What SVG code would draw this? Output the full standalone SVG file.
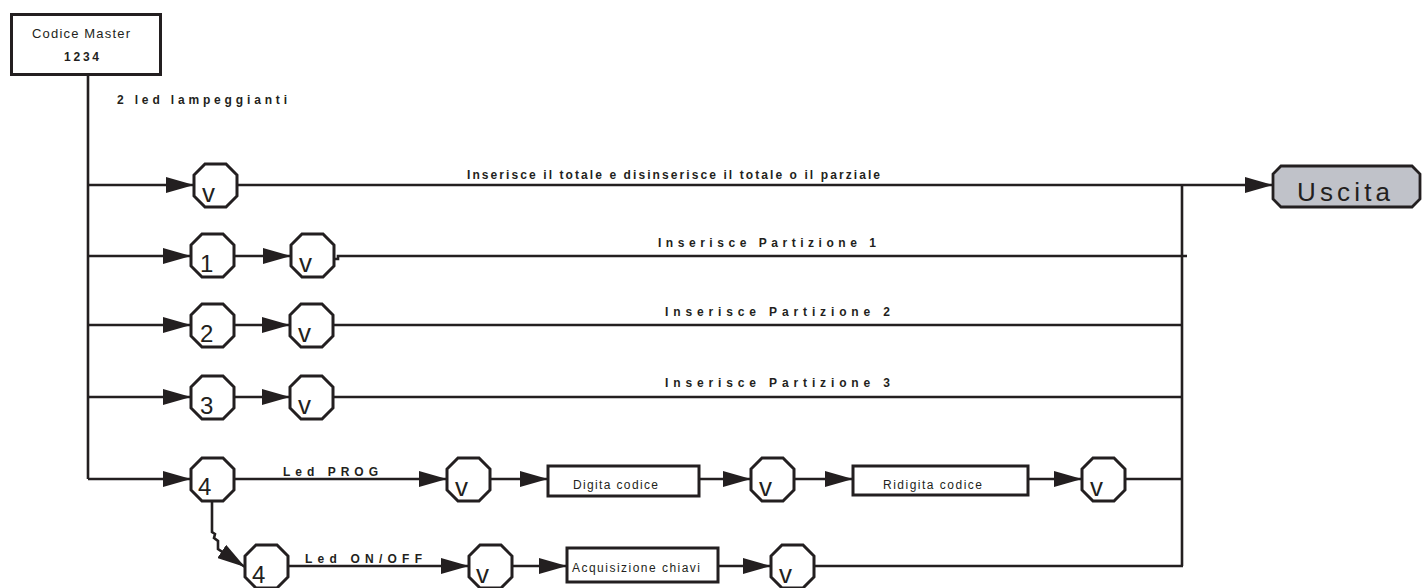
<svg xmlns="http://www.w3.org/2000/svg" xmlns:xlink="http://www.w3.org/1999/xlink" width="1422" height="588" viewBox="0 0 1422 588">
<style>
.ln{fill:none;stroke:#231f20;stroke-width:2.6}
.oct{fill:#fff;stroke:#231f20;stroke-width:3}
.box{fill:#fff;stroke:#231f20;stroke-width:3}
.t{font-family:"Liberation Sans",Arial,sans-serif;fill:#231f20}
.lb{font-family:"Liberation Sans",Arial,sans-serif;font-weight:bold;font-size:12px;fill:#231f20}
.sym{font-family:"Liberation Sans",Arial,sans-serif;font-size:26px;fill:#231f20}
.dig{font-family:"Liberation Sans",Arial,sans-serif;font-size:24px;fill:#231f20}
</style>
<defs>
<marker id="ah" markerUnits="userSpaceOnUse" markerWidth="28" markerHeight="16" refX="28" refY="8" orient="auto" viewBox="0 0 28 16">
<path d="M0,0 L28,8 L0,16 z" fill="#231f20"/>
</marker>
<polygon id="octShape" points="11,0 32,0 43,11 43,32 32,43 11,43 0,32 0,11"/>
</defs>

<g id="connectors">
<path class="ln" d="M88,75 V479"/>
<path class="ln" d="M88,185 H194" marker-end="url(#ah)"/>
<path class="ln" d="M237,185 H1273" stroke-width="3" marker-end="url(#ah)"/>
<path class="ln" d="M88,256 H191" marker-end="url(#ah)"/>
<path class="ln" d="M231,256 H291" marker-end="url(#ah)"/>
<path class="ln" d="M333,259 H338 V256 H1187"/>
<path class="ln" d="M88,325 H191" marker-end="url(#ah)"/>
<path class="ln" d="M231,325 H290" marker-end="url(#ah)"/>
<path class="ln" d="M331,325 H1183"/>
<path class="ln" d="M88,397 H191" marker-end="url(#ah)"/>
<path class="ln" d="M231,397 H290" marker-end="url(#ah)"/>
<path class="ln" d="M331,397 H1183"/>
<path class="ln" d="M88,479 H191" marker-end="url(#ah)"/>
<path class="ln" d="M231,479 H447" marker-end="url(#ah)"/>
<path class="ln" d="M490,479 H548" marker-end="url(#ah)"/>
<path class="ln" d="M699,479 H751" marker-end="url(#ah)"/>
<path class="ln" d="M791,479 H853" marker-end="url(#ah)"/>
<path class="ln" d="M1028,479 H1082" marker-end="url(#ah)"/>
<path class="ln" d="M1125,479 H1183"/>
<path class="ln" d="M1182,185 V566"/>
<path class="ln" d="M212,500 V532 L215,534 L214,538 L218,541 L218,549 L245,567" marker-end="url(#ah)"/>
<path class="ln" d="M287,566 H469" marker-end="url(#ah)"/>
<path class="ln" d="M512,566 H567" marker-end="url(#ah)"/>
<path class="ln" d="M718,566 H771" marker-end="url(#ah)"/>
<path class="ln" d="M813,566 H1183"/>
</g>

<g id="master">
<rect class="box" x="11.5" y="14.5" width="149" height="60"/>
<text class="t" x="81" y="38" font-size="13" text-anchor="middle" textLength="98" lengthAdjust="spacing">Codice Master</text>
<text class="lb" x="64" y="61" textLength="35" lengthAdjust="spacing">1234</text>
</g>
<text class="lb" x="117" y="104" textLength="170" lengthAdjust="spacing">2 led lampeggianti</text>

<g id="labels">
<text class="lb" x="467" y="179" textLength="413" lengthAdjust="spacing">Inserisce il totale e disinserisce il totale o il parziale</text>
<text class="lb" x="658" y="247" textLength="218" lengthAdjust="spacing">Inserisce Partizione 1</text>
<text class="lb" x="665" y="316" textLength="225" lengthAdjust="spacing">Inserisce Partizione 2</text>
<text class="lb" x="665" y="387" textLength="225" lengthAdjust="spacing">Inserisce Partizione 3</text>
<text class="lb" x="283" y="476" textLength="95" lengthAdjust="spacing">Led PROG</text>
<text class="lb" x="305" y="563" textLength="117" lengthAdjust="spacing">Led ON/OFF</text>
</g>

<g id="n-v0"><use xlink:href="#octShape" class="oct" x="194" y="164"/><text class="sym" x="202" y="202">v</text></g>
<g id="n-1"><use xlink:href="#octShape" class="oct" x="191" y="234"/><text class="dig" x="200" y="272">1</text></g>
<g id="n-v1"><use xlink:href="#octShape" class="oct" x="291" y="234"/><text class="sym" x="299" y="272">v</text></g>
<g id="n-2"><use xlink:href="#octShape" class="oct" x="191" y="304"/><text class="dig" x="200" y="342">2</text></g>
<g id="n-v2"><use xlink:href="#octShape" class="oct" x="290" y="304"/><text class="sym" x="298" y="342">v</text></g>
<g id="n-3"><use xlink:href="#octShape" class="oct" x="191" y="376"/><text class="dig" x="200" y="414">3</text></g>
<g id="n-v3"><use xlink:href="#octShape" class="oct" x="290" y="376"/><text class="sym" x="298" y="414">v</text></g>
<g id="n-4a"><use xlink:href="#octShape" class="oct" x="191" y="458"/><text class="dig" x="198" y="495" font-size="27">4</text></g>
<g id="n-v4"><use xlink:href="#octShape" class="oct" x="447" y="458"/><text class="sym" x="455" y="496">v</text></g>
<g id="n-digita"><rect class="box" x="548" y="466" width="151" height="30"/><text class="t" x="573" y="489" font-size="12" textLength="85" lengthAdjust="spacing">Digita codice</text></g>
<g id="n-v5"><use xlink:href="#octShape" class="oct" x="751" y="458"/><text class="sym" x="759" y="496">v</text></g>
<g id="n-ridigita"><rect class="box" x="853" y="466" width="175" height="29"/><text class="t" x="883" y="489" font-size="12" textLength="99" lengthAdjust="spacing">Ridigita codice</text></g>
<g id="n-v6"><use xlink:href="#octShape" class="oct" x="1082" y="458"/><text class="sym" x="1090" y="496">v</text></g>
<g id="n-4b"><use xlink:href="#octShape" class="oct" x="245" y="545"/><text class="dig" x="252" y="583" font-size="27">4</text></g>
<g id="n-v7"><use xlink:href="#octShape" class="oct" x="469" y="545"/><text class="sym" x="476" y="583">v</text></g>
<g id="n-acq"><rect class="box" x="567" y="548" width="151" height="34"/><text class="t" x="572" y="572" font-size="12" textLength="128" lengthAdjust="spacing">Acquisizione chiavi</text></g>
<g id="n-v8"><use xlink:href="#octShape" class="oct" x="771" y="545"/><text class="sym" x="779" y="583">v</text></g>

<g id="n-uscita">
<polygon points="1281,166 1412,166 1420,174 1420,199 1412,207 1281,207 1273,199 1273,174" fill="#c0c2c9" stroke="#231f20" stroke-width="2.8"/>
<text class="t" x="1297" y="201" font-size="26" textLength="93" lengthAdjust="spacing">Uscita</text>
</g>
</svg>
